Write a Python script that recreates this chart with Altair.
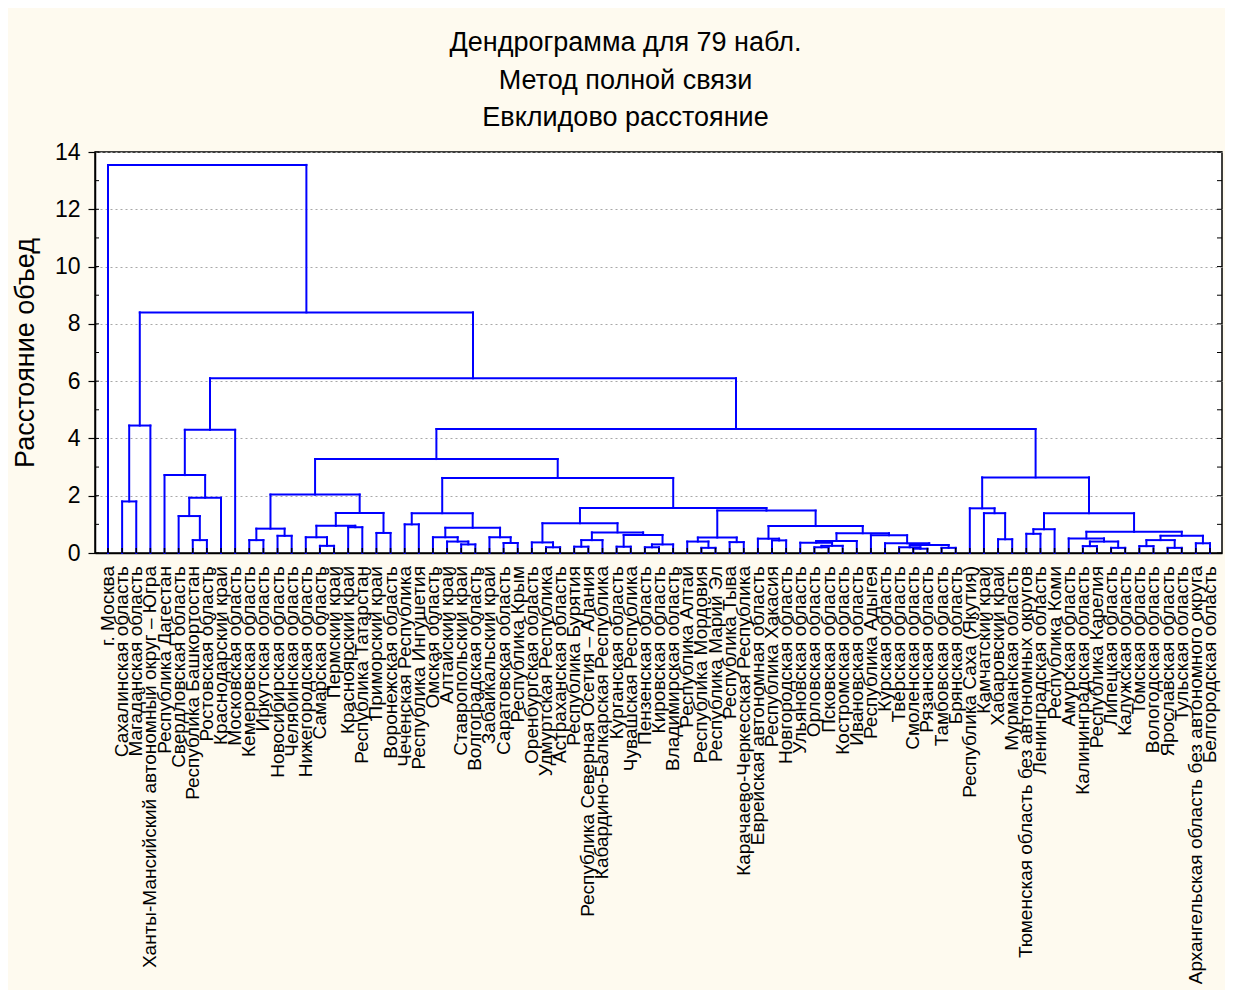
import altair as alt
import pandas as pd

labels = [
    "г. Москва", "Сахалинская область", "Магаданская область",
    "Ханты-Мансийский автономный округ – Югра", "Республика Дагестан",
    "Свердловская область", "Республика Башкортостан", "Ростовская область",
    "Краснодарский край", "Московская область", "Кемеровская область",
    "Иркутская область", "Новосибирская область", "Челябинская область",
    "Нижегородская область", "Самарская область", "Пермский край",
    "Красноярский край", "Республика Татарстан", "Приморский край",
    "Воронежская область", "Чеченская Республика", "Республика Ингушетия",
    "Омская область", "Алтайский край", "Ставропольский край",
    "Волгоградская область", "Забайкальский край", "Саратовская область",
    "Республика Крым", "Оренбургская область", "Удмуртская Республика",
    "Астраханская область", "Республика Бурятия",
    "Республика Северная Осетия – Алания", "Кабардино-Балкарская Республика",
    "Курганская область", "Чувашская Республика", "Пензенская область",
    "Кировская область", "Владимирская область", "Республика Алтай",
    "Республика Мордовия", "Республика Марий Эл", "Республика Тыва",
    "Карачаево-Черкесская Республика", "Еврейская автономная область",
    "Республика Хакасия", "Новгородская область", "Ульяновская область",
    "Орловская область", "Псковская область", "Костромская область",
    "Ивановская область", "Республика Адыгея", "Курская область",
    "Тверская область", "Смоленская область", "Рязанская область",
    "Тамбовская область", "Брянская область", "Республика Саха (Якутия)",
    "Камчатский край", "Хабаровский край", "Мурманская область",
    "Тюменская область без автономных округов", "Ленинградская область",
    "Республика Коми", "Амурская область", "Калининградская область",
    "Республика Карелия", "Липецкая область", "Калужская область",
    "Томская область", "Вологодская область", "Ярославская область",
    "Тульская область", "Архангельская область без автономного округа",
    "Белгородская область",
]

# linkage: children are leaf indices (int) or earlier merge names (str)
merge_name = [
    "m12", "m123", "A", "B", "C", "D", "E", "F", "G", "H", "I", "J", "K", "L",
    "N", "M", "O", "P", "S", "T", "U", "V", "W", "R", "Q", "X", "Y", "AA1",
    "AA", "AB1", "AC1", "AC", "AB", "AAB", "Y2", "Z1", "Z2", "Z4", "Z3", "AD1",
    "AD", "P1", "P2", "P3", "P4", "AI1", "AI", "AH1", "AH", "AG", "AF", "AE",
    "ADE", "Z5", "G157", "G262", "G328", "Q1", "Q2", "Q3", "R1", "R2", "S1",
    "S2", "S3", "S4", "T1", "T2", "T3", "T7", "T4", "T5", "T6", "RR", "BIG",
    "K6", "K8", "ROOT",
]
merge_left = [
    1, "m12", 6, 5, "B", 4, "D", 10, 12, "F", 15, 14, 17, "J",
    19, "L", "H", 21, 25, 24, 23, 28, 27, "U", "P", 31, 30, 33,
    "AA1", 36, 38, "AC1", "AB1", "AA", "Y", 42, 41, 44, "Z2", 47,
    46, 50, "P1", 49, "P3", 57, 56, 59, "AI", 55, 54, "P4",
    "AD", "Z3", "Y2", "Q", "O", 63, 62, 61, 65, "R1", 69,
    71, "S1", 68, 73, 75, "T1", 77, "T3", "S4", "R2", "Q3", "G328",
    "E", "m123", 0,
]
merge_right = [
    2, 3, 7, "A", 8, "C", 9, 11, 13, "G", 16, "I", 18, "K",
    20, "N", "M", 22, 26, "S", "T", 29, "V", "W", "R", 32, "X", 34,
    35, 37, 39, 40, "AC", "AB", "AAB", 43, "Z1", 45, "Z4", 48,
    "AD1", 51, 52, "P2", 53, 58, "AI1", 60, "AH1", "AH", "AG", "AF",
    "AE", "ADE", "Z5", "G157", "G262", 64, "Q1", "Q2", 66, 67, 70,
    72, "S2", "S3", 74, 76, "T2", 78, "T7", "T4", "T5", "T6", "RR",
    "BIG", "K6", "K8",
]
merge_height = [
    1.80, 4.45, 0.45, 1.29, 1.93, 2.72, 4.30, 0.45, 0.60, 0.85, 0.25, 0.55, 0.90, 0.95,
    0.70, 1.40, 2.04, 1.00, 0.30, 0.40, 0.55, 0.35, 0.55, 0.88, 1.39, 0.20, 0.37, 0.22,
    0.45, 0.22, 0.20, 0.30, 0.63, 0.72, 1.04, 0.18, 0.40, 0.38, 0.54, 0.44,
    0.50, 0.20, 0.25, 0.36, 0.42, 0.15, 0.20, 0.18, 0.28, 0.34, 0.62, 0.69,
    0.94, 1.48, 1.57, 2.62, 3.28, 0.48, 1.39, 1.56, 0.67, 0.83, 0.24,
    0.18, 0.40, 0.51, 0.24, 0.18, 0.45, 0.34, 0.60, 0.74, 1.39, 2.64, 4.33,
    6.10, 8.40, 13.55,
]

title_lines = ["Дендрограмма для 79 набл.", "Метод полной связи", "Евклидово расстояние"]
y_title = "Расстояние объед"
y_major = [0, 2, 4, 6, 8, 10, 12, 14]
y_minor = list(range(0, 15))

# ---- build segments from the linkage ----
pos = {i: float(i) for i in range(len(labels))}
hgt = {i: 0.0 for i in range(len(labels))}
segs = []
for n, l, r, h in zip(merge_name, merge_left, merge_right, merge_height):
    xl, xr = pos[l], pos[r]
    segs.append({"x": xl, "x2": xl, "y": hgt[l], "y2": h})
    segs.append({"x": xr, "x2": xr, "y": hgt[r], "y2": h})
    segs.append({"x": xl, "x2": xr, "y": h, "y2": h})
    pos[n] = (xl + xr) / 2
    hgt[n] = h
seg_df = pd.DataFrame(segs)
leaf_df = pd.DataFrame({"leaf": list(range(len(labels))), "label": labels})
minor_df = pd.DataFrame({"v": y_minor})

W, H = 1127, 401
FONT = "Liberation Sans"
xscale = alt.Scale(domain=[-0.92, 78.85], nice=False, zero=False)
yscale = alt.Scale(domain=[0, 14], nice=False, zero=True)

dendro = alt.Chart(seg_df).mark_rule(
    color="#0000FF", strokeWidth=2, strokeCap="square"
).encode(
    x=alt.X("x:Q", scale=xscale, axis=alt.Axis(
        labels=False, ticks=False, grid=False, domainColor="black",
        domainWidth=1.5, title=None)),
    x2="x2:Q",
    y=alt.Y("y:Q", scale=yscale, axis=alt.Axis(
        values=y_major, labelFont=FONT, labelFontSize=23, labelColor="black",
        tickSize=7, tickColor="black", tickWidth=1.2, labelPadding=8,
        domainColor="black", domainWidth=1.5,
        grid=True, gridDash=[2, 3], gridColor="#a8a8a8", gridWidth=1,
        title=y_title, titleFont=FONT, titleFontSize=27, titleFontWeight="normal",
        titleColor="black", titlePadding=15)),
    y2="y2:Q",
)

leaf_labels = alt.Chart(leaf_df).mark_text(
    angle=270, align="right", baseline="middle", font=FONT, fontSize=19,
    color="black"
).encode(
    x=alt.X("leaf:Q", scale=xscale), y=alt.value(H + 13), text="label:N"
)

leaf_ticks = alt.Chart(leaf_df).mark_rule(color="black", strokeWidth=1.5).encode(
    x=alt.X("leaf:Q", scale=xscale), y=alt.value(H - 5), y2=alt.value(H)
)
left_minor = alt.Chart(minor_df).mark_rule(color="black", strokeWidth=1).encode(
    y=alt.Y("v:Q", scale=yscale), x=alt.value(0), x2=alt.value(4)
)
right_minor = alt.Chart(minor_df).mark_rule(color="black", strokeWidth=1).encode(
    y=alt.Y("v:Q", scale=yscale), x=alt.value(W - 5), x2=alt.value(W)
)

chart = alt.layer(dendro, leaf_ticks, left_minor, right_minor, leaf_labels).properties(
    width=W, height=H,
    title=alt.TitleParams(
        text=title_lines, fontSize=27, font=FONT, fontWeight="normal",
        color="black", anchor="middle", frame="group", dx=-33, offset=9,
        lineHeight=37.5),
    padding={"left": 87, "top": 144, "right": 3, "bottom": 437},
    autosize=alt.AutoSizeParams(type="none"),
    background="#FEFAEF",
).configure_view(stroke="black", strokeWidth=1.5, fill="white")

chart.save("out.html", embed_options={"renderer": "svg", "actions": False})
